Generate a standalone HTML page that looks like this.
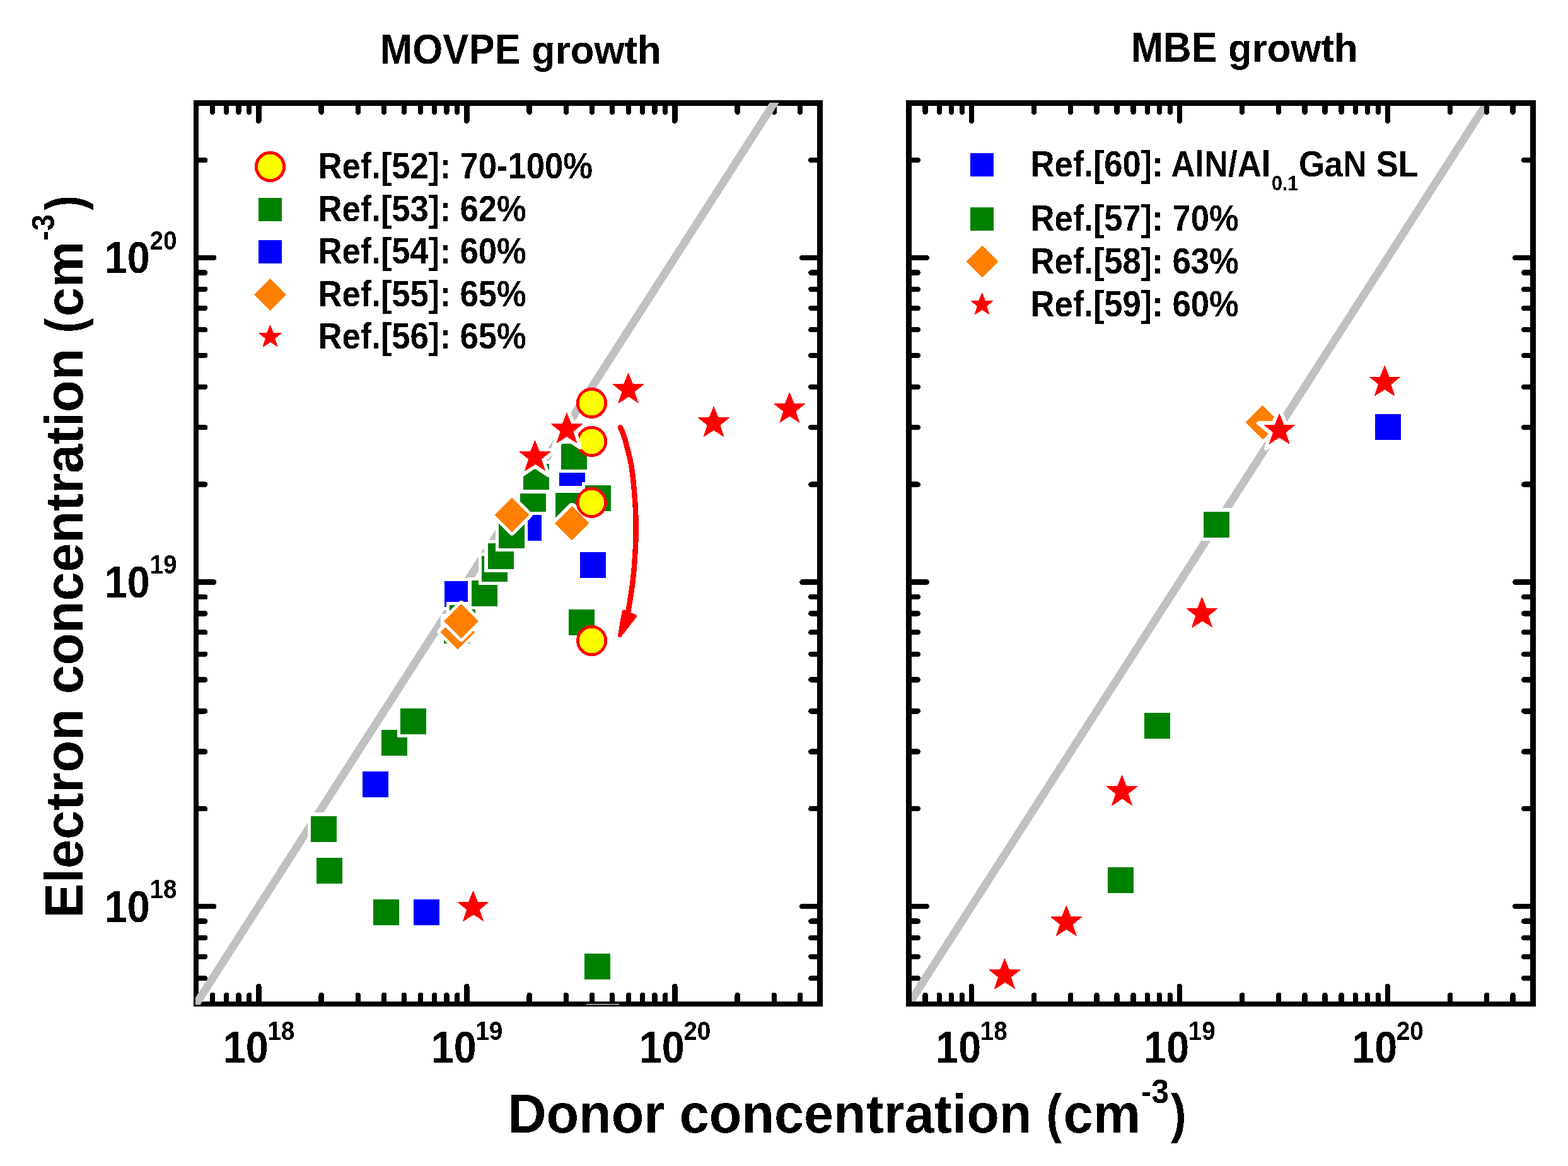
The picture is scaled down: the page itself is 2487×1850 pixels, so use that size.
<!DOCTYPE html>
<html lang="en"><head><meta charset="utf-8"><title>Electron concentration vs donor concentration</title>
<style>html,body{margin:0;padding:0;background:#fff}svg{display:block}text{font-family:"Liberation Sans",sans-serif;font-weight:bold;fill:#000}</style>
</head><body>
<svg shape-rendering="crispEdges" width="2487" height="1850" viewBox="0 0 2487 1850" role="img" aria-label="Electron concentration versus donor concentration for MOVPE and MBE growth">
<rect width="2487" height="1850" fill="#fff"/>
<defs>
<filter id="bw" filterUnits="userSpaceOnUse" x="0" y="0" width="2487" height="1850" color-interpolation-filters="sRGB"><feComponentTransfer><feFuncA type="discrete" tableValues="0 1"/></feComponentTransfer></filter>
<clipPath id="clipL"><rect x="310" y="163" width="991.2" height="1431.2"/></clipPath>
<clipPath id="clipR"><rect x="1446" y="167.9" width="981" height="1421.1"/></clipPath>
</defs>
<g id="left-axes" stroke="#000" stroke-width="8.4" fill="none" stroke-linecap="round">
<rect x="311" y="163.5" width="989.7" height="1429.5" stroke-linejoin="miter"/>
<path d="M337.13 1591.5v-12.8M337.13 165v12.8M359.22 1591.5v-12.8M359.22 165v12.8M378.36 1591.5v-12.8M378.36 165v12.8M395.24 1591.5v-12.8M395.24 165v12.8M410.34 1591.5v-26.8M410.34 165v26.8M509.68 1591.5v-12.8M509.68 165v12.8M567.79 1591.5v-12.8M567.79 165v12.8M609.02 1591.5v-12.8M609.02 165v12.8M641 1591.5v-12.8M641 165v12.8M667.13 1591.5v-12.8M667.13 165v12.8M689.22 1591.5v-12.8M689.22 165v12.8M708.36 1591.5v-12.8M708.36 165v12.8M725.24 1591.5v-12.8M725.24 165v12.8M740.34 1591.5v-26.8M740.34 165v26.8M839.68 1591.5v-12.8M839.68 165v12.8M897.79 1591.5v-12.8M897.79 165v12.8M939.02 1591.5v-12.8M939.02 165v12.8M971 1591.5v-12.8M971 165v12.8M997.13 1591.5v-12.8M997.13 165v12.8M1019.22 1591.5v-12.8M1019.22 165v12.8M1038.36 1591.5v-12.8M1038.36 165v12.8M1055.24 1591.5v-12.8M1055.24 165v12.8M1070.34 1591.5v-26.8M1070.34 165v26.8M1169.68 1591.5v-12.8M1169.68 165v12.8M1227.79 1591.5v-12.8M1227.79 165v12.8M1269.02 1591.5v-12.8M1269.02 165v12.8M312.5 1552.26h12.8M1299.2 1552.26h-12.8M312.5 1517.81h12.8M1299.2 1517.81h-12.8M312.5 1487.97h12.8M1299.2 1487.97h-12.8M312.5 1461.65h12.8M1299.2 1461.65h-12.8M312.5 1438.1h26.8M1299.2 1438.1h-26.8M312.5 1283.21h12.8M1299.2 1283.21h-12.8M312.5 1192.6h12.8M1299.2 1192.6h-12.8M312.5 1128.31h12.8M1299.2 1128.31h-12.8M312.5 1078.45h12.8M1299.2 1078.45h-12.8M312.5 1037.71h12.8M1299.2 1037.71h-12.8M312.5 1003.26h12.8M1299.2 1003.26h-12.8M312.5 973.42h12.8M1299.2 973.42h-12.8M312.5 947.1h12.8M1299.2 947.1h-12.8M312.5 923.55h26.8M1299.2 923.55h-26.8M312.5 768.66h12.8M1299.2 768.66h-12.8M312.5 678.05h12.8M1299.2 678.05h-12.8M312.5 613.76h12.8M1299.2 613.76h-12.8M312.5 563.9h12.8M1299.2 563.9h-12.8M312.5 523.16h12.8M1299.2 523.16h-12.8M312.5 488.71h12.8M1299.2 488.71h-12.8M312.5 458.87h12.8M1299.2 458.87h-12.8M312.5 432.55h12.8M1299.2 432.55h-12.8M312.5 409h26.8M1299.2 409h-26.8M312.5 254.11h12.8M1299.2 254.11h-12.8"/>
</g>
<g id="right-axes" stroke="#000" stroke-width="8.4" fill="none" stroke-linecap="round">
<rect x="1441.5" y="163.5" width="990" height="1429.5" stroke-linejoin="miter"/>
<path d="M1467.63 1591.5v-12.8M1467.63 165v12.8M1489.72 1591.5v-12.8M1489.72 165v12.8M1508.86 1591.5v-12.8M1508.86 165v12.8M1525.74 1591.5v-12.8M1525.74 165v12.8M1540.84 1591.5v-26.8M1540.84 165v26.8M1640.18 1591.5v-12.8M1640.18 165v12.8M1698.29 1591.5v-12.8M1698.29 165v12.8M1739.52 1591.5v-12.8M1739.52 165v12.8M1771.5 1591.5v-12.8M1771.5 165v12.8M1797.63 1591.5v-12.8M1797.63 165v12.8M1819.72 1591.5v-12.8M1819.72 165v12.8M1838.86 1591.5v-12.8M1838.86 165v12.8M1855.74 1591.5v-12.8M1855.74 165v12.8M1870.84 1591.5v-26.8M1870.84 165v26.8M1970.18 1591.5v-12.8M1970.18 165v12.8M2028.29 1591.5v-12.8M2028.29 165v12.8M2069.52 1591.5v-12.8M2069.52 165v12.8M2101.5 1591.5v-12.8M2101.5 165v12.8M2127.63 1591.5v-12.8M2127.63 165v12.8M2149.72 1591.5v-12.8M2149.72 165v12.8M2168.86 1591.5v-12.8M2168.86 165v12.8M2185.74 1591.5v-12.8M2185.74 165v12.8M2200.84 1591.5v-26.8M2200.84 165v26.8M2300.18 1591.5v-12.8M2300.18 165v12.8M2358.29 1591.5v-12.8M2358.29 165v12.8M2399.52 1591.5v-12.8M2399.52 165v12.8M1443 1552.26h12.8M2430 1552.26h-12.8M1443 1517.81h12.8M2430 1517.81h-12.8M1443 1487.97h12.8M2430 1487.97h-12.8M1443 1461.65h12.8M2430 1461.65h-12.8M1443 1438.1h26.8M2430 1438.1h-26.8M1443 1283.21h12.8M2430 1283.21h-12.8M1443 1192.6h12.8M2430 1192.6h-12.8M1443 1128.31h12.8M2430 1128.31h-12.8M1443 1078.45h12.8M2430 1078.45h-12.8M1443 1037.71h12.8M2430 1037.71h-12.8M1443 1003.26h12.8M2430 1003.26h-12.8M1443 973.42h12.8M2430 973.42h-12.8M1443 947.1h12.8M2430 947.1h-12.8M1443 923.55h26.8M2430 923.55h-26.8M1443 768.66h12.8M2430 768.66h-12.8M1443 678.05h12.8M2430 678.05h-12.8M1443 613.76h12.8M2430 613.76h-12.8M1443 563.9h12.8M2430 563.9h-12.8M1443 523.16h12.8M2430 523.16h-12.8M1443 488.71h12.8M2430 488.71h-12.8M1443 458.87h12.8M2430 458.87h-12.8M1443 432.55h12.8M2430 432.55h-12.8M1443 409h26.8M2430 409h-26.8M1443 254.11h12.8M2430 254.11h-12.8"/>
</g>
<g id="left-data" clip-path="url(#clipL)">
<line x1="283.5" y1="1635.88" x2="1255.29" y2="120.62" stroke="#c0c0c0" stroke-width="12.6"/>
<rect x="699.7" y="916.7" width="51.6" height="51.6" fill="#fff"/><rect x="705" y="922" width="41" height="41" fill="#00f"/>
<rect x="914.7" y="870.6" width="51.6" height="51.6" fill="#fff"/><rect x="920" y="875.9" width="41" height="41" fill="#00f"/>
<rect x="569.6" y="1218.6" width="51.6" height="51.6" fill="#fff"/><rect x="574.9" y="1223.9" width="41" height="41" fill="#00f"/>
<rect x="650.6" y="1421.5" width="51.6" height="51.6" fill="#fff"/><rect x="655.9" y="1426.8" width="41" height="41" fill="#00f"/>
<rect x="881.7" y="744.7" width="51.6" height="51.6" fill="#fff"/><rect x="887" y="750" width="41" height="20.5" fill="#00f"/>
<rect x="487.7" y="1289.4" width="51.6" height="51.6" fill="#fff"/><rect x="493" y="1294.7" width="41" height="41" fill="#008000"/>
<rect x="496.2" y="1355.7" width="51.6" height="51.6" fill="#fff"/><rect x="501.5" y="1361" width="41" height="41" fill="#008000"/>
<rect x="586.2" y="1421.5" width="51.6" height="51.6" fill="#fff"/><rect x="591.5" y="1426.8" width="41" height="41" fill="#008000"/>
<rect x="599.8" y="1152.7" width="51.6" height="51.6" fill="#fff"/><rect x="605.1" y="1158" width="41" height="41" fill="#008000"/>
<rect x="629.8" y="1118.6" width="51.6" height="51.6" fill="#fff"/><rect x="635.1" y="1123.9" width="41" height="41" fill="#008000"/>
<rect x="698.7" y="974.4" width="51.6" height="51.6" fill="#fff"/><rect x="704" y="979.7" width="41" height="41" fill="#008000"/>
<rect x="707.6" y="954.6" width="51.6" height="51.6" fill="#fff"/><rect x="712.9" y="959.9" width="41" height="41" fill="#008000"/>
<rect x="742.2" y="915.7" width="51.6" height="51.6" fill="#fff"/><rect x="747.5" y="921" width="41" height="41" fill="#008000"/>
<rect x="758.7" y="876.7" width="51.6" height="51.6" fill="#fff"/><rect x="764" y="882" width="41" height="41" fill="#008000"/>
<rect x="768.2" y="856.7" width="51.6" height="51.6" fill="#fff"/><rect x="773.5" y="862" width="41" height="41" fill="#008000"/>
<rect x="785.7" y="823.4" width="51.6" height="51.6" fill="#fff"/><rect x="791" y="828.7" width="41" height="41" fill="#008000"/>
<rect x="819.7" y="777.8" width="51.6" height="51.6" fill="#fff"/><rect x="825" y="783.1" width="41" height="41" fill="#008000"/>
<rect x="824.3" y="730.5" width="51.6" height="51.6" fill="#fff"/><rect x="829.6" y="735.8" width="41" height="41" fill="#008000"/>
<rect x="831.6" y="811.7" width="51.6" height="51.6" fill="#fff"/><rect x="836.9" y="817" width="21.7" height="41" fill="#00f"/>
<rect x="875.8" y="777" width="51.6" height="51.6" fill="#fff"/><rect x="881.1" y="782.3" width="41" height="41" fill="#008000"/>
<rect x="885.1" y="698.7" width="51.6" height="51.6" fill="#fff"/><rect x="890.4" y="704" width="41" height="41" fill="#008000"/>
<rect x="896.6" y="961.7" width="51.6" height="51.6" fill="#fff"/><rect x="901.9" y="967" width="41" height="41" fill="#008000"/>
<rect x="923.1" y="764.5" width="51.6" height="51.6" fill="#fff"/><rect x="928.4" y="769.8" width="41" height="41" fill="#008000"/>
<rect x="921.7" y="1507.7" width="51.6" height="51.6" fill="#fff"/><rect x="927" y="1513" width="41" height="41" fill="#008000"/>
<rect x="930" y="1593" width="52" height="1" fill="#fff"/>
<path d="M726 975.3L753.4 1002.7L726 1030.1L698.6 1002.7Z" fill="#fff" stroke="#fff" stroke-width="10.6" stroke-linejoin="round"/><path d="M726 975.3L753.4 1002.7L726 1030.1L698.6 1002.7Z" fill="#ff8000"/>
<path d="M731.5 958.1L758.9 985.5L731.5 1012.9L704.1 985.5Z" fill="#fff" stroke="#fff" stroke-width="10.6" stroke-linejoin="round"/><path d="M731.5 958.1L758.9 985.5L731.5 1012.9L704.1 985.5Z" fill="#ff8000"/>
<path d="M812 789.6L839.4 817L812 844.4L784.6 817Z" fill="#fff" stroke="#fff" stroke-width="10.6" stroke-linejoin="round"/><path d="M812 789.6L839.4 817L812 844.4L784.6 817Z" fill="#ff8000"/>
<path d="M907.4 802.8L934.8 830.2L907.4 857.6L880 830.2Z" fill="#fff" stroke="#fff" stroke-width="10.6" stroke-linejoin="round"/><path d="M907.4 802.8L934.8 830.2L907.4 857.6L880 830.2Z" fill="#ff8000"/>
<circle cx="938.5" cy="639.4" r="22.2" fill="#ff0" stroke="#f00" stroke-width="4.7"/>
<circle cx="938.5" cy="700.4" r="22.2" fill="#ff0" stroke="#f00" stroke-width="4.7"/>
<circle cx="938.3" cy="797.4" r="22.2" fill="#ff0" stroke="#f00" stroke-width="4.7"/>
<circle cx="938.6" cy="1016.5" r="22.2" fill="#ff0" stroke="#f00" stroke-width="4.7"/>
<path d="M750.5 1405.05L759.81 1428.46L783.35 1428.46L763.67 1444.42L771.78 1468.49L750.5 1454.66L729.22 1468.49L737.33 1444.42L717.65 1428.46L741.19 1428.46Z" fill="#fff" stroke="#fff" stroke-width="6.2" stroke-linejoin="round"/><path d="M750.5 1413.6L757.5 1431.2L775.2 1431.2L760.4 1443.2L766.5 1461.3L750.5 1450.9L734.5 1461.3L740.6 1443.2L725.8 1431.2L743.5 1431.2Z" fill="#f00" stroke="#f00" stroke-width="0.9" stroke-miterlimit="10"/>
<path d="M848.5 690.55L857.81 713.96L881.35 713.96L861.67 729.92L869.78 753.99L848.5 740.16L827.22 753.99L835.33 729.92L815.65 713.96L839.19 713.96Z" fill="#fff" stroke="#fff" stroke-width="6.2" stroke-linejoin="round"/><path d="M848.5 699.1L855.5 716.7L873.2 716.7L858.4 728.7L864.5 746.8L848.5 736.4L832.5 746.8L838.6 728.7L823.8 716.7L841.5 716.7Z" fill="#f00" stroke="#f00" stroke-width="0.9" stroke-miterlimit="10"/>
<path d="M899 646.65L908.31 670.06L931.85 670.06L912.17 686.02L920.28 710.09L899 696.26L877.72 710.09L885.83 686.02L866.15 670.06L889.69 670.06Z" fill="#fff" stroke="#fff" stroke-width="6.2" stroke-linejoin="round"/><path d="M899 655.2L906 672.8L923.7 672.8L908.9 684.8L915 702.9L899 692.5L883 702.9L889.1 684.8L874.3 672.8L892 672.8Z" fill="#f00" stroke="#f00" stroke-width="0.9" stroke-miterlimit="10"/>
<path d="M996.5 583.35L1005.81 606.76L1029.35 606.76L1009.67 622.72L1017.78 646.79L996.5 632.96L975.22 646.79L983.33 622.72L963.65 606.76L987.19 606.76Z" fill="#fff" stroke="#fff" stroke-width="6.2" stroke-linejoin="round"/><path d="M996.5 591.9L1003.5 609.5L1021.2 609.5L1006.4 621.5L1012.5 639.6L996.5 629.2L980.5 639.6L986.6 621.5L971.8 609.5L989.5 609.5Z" fill="#f00" stroke="#f00" stroke-width="0.9" stroke-miterlimit="10"/>
<path d="M1132 636.55L1141.31 659.96L1164.85 659.96L1145.17 675.92L1153.28 699.99L1132 686.16L1110.72 699.99L1118.83 675.92L1099.15 659.96L1122.69 659.96Z" fill="#fff" stroke="#fff" stroke-width="6.2" stroke-linejoin="round"/><path d="M1132 645.1L1139 662.7L1156.7 662.7L1141.9 674.7L1148 692.8L1132 682.4L1116 692.8L1122.1 674.7L1107.3 662.7L1125 662.7Z" fill="#f00" stroke="#f00" stroke-width="0.9" stroke-miterlimit="10"/>
<path d="M1252.3 614.35L1261.61 637.76L1285.15 637.76L1265.47 653.72L1273.58 677.79L1252.3 663.96L1231.02 677.79L1239.13 653.72L1219.45 637.76L1242.99 637.76Z" fill="#fff" stroke="#fff" stroke-width="6.2" stroke-linejoin="round"/><path d="M1252.3 622.9L1259.3 640.5L1277 640.5L1262.2 652.5L1268.3 670.6L1252.3 660.2L1236.3 670.6L1242.4 652.5L1227.6 640.5L1245.3 640.5Z" fill="#f00" stroke="#f00" stroke-width="0.9" stroke-miterlimit="10"/>
</g>
<g id="arrow">
<path d="M984 678.4C985 680.78 988.03 686.68 990 692.7C991.97 698.72 993.98 707.23 995.8 714.5C997.62 721.77 999.55 729.03 1000.9 736.3C1002.25 743.57 1003.05 750.83 1003.9 758.1C1004.75 765.37 1005.38 772.63 1006 779.9C1006.62 787.17 1007.18 794.43 1007.6 801.7C1008.02 808.97 1008.33 817.12 1008.5 823.5C1008.67 829.88 1008.65 833.62 1008.6 840C1008.55 846.38 1008.47 854.53 1008.2 861.8C1007.93 869.07 1007.47 876.33 1007 883.6C1006.53 890.87 1006.06 898.13 1005.4 905.4C1004.74 912.67 1003.97 919.93 1003.05 927.2C1002.13 934.47 1000.88 942.65 999.9 949C998.92 955.35 997.97 960.97 997.2 965.3C996.43 969.63 995.62 973.38 995.3 975" fill="none" stroke="#f00" stroke-width="8.5" stroke-linecap="round" stroke-linejoin="round"/>
<path d="M989.4 970.8L1006.9 977.6L982.9 1008.4Z" fill="#f00" stroke="#f00" stroke-width="6" stroke-linejoin="round"/>
</g>
<g id="right-data" clip-path="url(#clipR)">
<line x1="1414" y1="1635.88" x2="2385.79" y2="120.62" stroke="#c0c0c0" stroke-width="12.6"/>
<rect x="2175.6" y="651.5" width="51.6" height="51.6" fill="#fff"/><rect x="2180.9" y="656.8" width="41" height="41" fill="#00f"/>
<rect x="1751.2" y="1370.7" width="51.6" height="51.6" fill="#fff"/><rect x="1756.5" y="1376" width="41" height="41" fill="#008000"/>
<rect x="1809.7" y="1125.7" width="51.6" height="51.6" fill="#fff"/><rect x="1815" y="1131" width="41" height="41" fill="#008000"/>
<rect x="1903.2" y="806.4" width="51.6" height="51.6" fill="#fff"/><rect x="1908.5" y="811.7" width="41" height="41" fill="#008000"/>
<path d="M2002.9 643L2030.3 670.4L2002.9 697.8L1975.5 670.4Z" fill="#fff" stroke="#fff" stroke-width="10.6" stroke-linejoin="round"/><path d="M2002.9 643L2030.3 670.4L2002.9 697.8L1975.5 670.4Z" fill="#ff8000"/>
<path d="M1593.5 1512.55L1602.81 1535.96L1626.35 1535.96L1606.67 1551.92L1614.78 1575.99L1593.5 1562.16L1572.22 1575.99L1580.33 1551.92L1560.65 1535.96L1584.19 1535.96Z" fill="#fff" stroke="#fff" stroke-width="6.2" stroke-linejoin="round"/><path d="M1593.5 1521.1L1600.5 1538.7L1618.2 1538.7L1603.4 1550.7L1609.5 1568.8L1593.5 1558.4L1577.5 1568.8L1583.6 1550.7L1568.8 1538.7L1586.5 1538.7Z" fill="#f00" stroke="#f00" stroke-width="0.9" stroke-miterlimit="10"/>
<path d="M1691.3 1428.55L1700.61 1451.96L1724.15 1451.96L1704.47 1467.92L1712.58 1491.99L1691.3 1478.16L1670.02 1491.99L1678.13 1467.92L1658.45 1451.96L1681.99 1451.96Z" fill="#fff" stroke="#fff" stroke-width="6.2" stroke-linejoin="round"/><path d="M1691.3 1437.1L1698.3 1454.7L1716 1454.7L1701.2 1466.7L1707.3 1484.8L1691.3 1474.4L1675.3 1484.8L1681.4 1466.7L1666.6 1454.7L1684.3 1454.7Z" fill="#f00" stroke="#f00" stroke-width="0.9" stroke-miterlimit="10"/>
<path d="M1779.5 1221.35L1788.81 1244.76L1812.35 1244.76L1792.67 1260.72L1800.78 1284.79L1779.5 1270.96L1758.22 1284.79L1766.33 1260.72L1746.65 1244.76L1770.19 1244.76Z" fill="#fff" stroke="#fff" stroke-width="6.2" stroke-linejoin="round"/><path d="M1779.5 1229.9L1786.5 1247.5L1804.2 1247.5L1789.4 1259.5L1795.5 1277.6L1779.5 1267.2L1763.5 1277.6L1769.6 1259.5L1754.8 1247.5L1772.5 1247.5Z" fill="#f00" stroke="#f00" stroke-width="0.9" stroke-miterlimit="10"/>
<path d="M1906.5 939.15L1915.81 962.56L1939.35 962.56L1919.67 978.52L1927.78 1002.59L1906.5 988.76L1885.22 1002.59L1893.33 978.52L1873.65 962.56L1897.19 962.56Z" fill="#fff" stroke="#fff" stroke-width="6.2" stroke-linejoin="round"/><path d="M1906.5 947.7L1913.5 965.3L1931.2 965.3L1916.4 977.3L1922.5 995.4L1906.5 985L1890.5 995.4L1896.6 977.3L1881.8 965.3L1899.5 965.3Z" fill="#f00" stroke="#f00" stroke-width="0.9" stroke-miterlimit="10"/>
<path d="M2029.2 648.15L2038.51 671.56L2062.05 671.56L2042.37 687.52L2050.48 711.59L2029.2 697.76L2007.92 711.59L2016.03 687.52L1996.35 671.56L2019.89 671.56Z" fill="#fff" stroke="#fff" stroke-width="6.2" stroke-linejoin="round"/><path d="M2029.2 656.7L2036.2 674.3L2053.9 674.3L2039.1 686.3L2045.2 704.4L2029.2 694L2013.2 704.4L2019.3 686.3L2004.5 674.3L2022.2 674.3Z" fill="#f00" stroke="#f00" stroke-width="0.9" stroke-miterlimit="10"/>
<path d="M2196.2 571.85L2205.51 595.26L2229.05 595.26L2209.37 611.22L2217.48 635.29L2196.2 621.46L2174.92 635.29L2183.03 611.22L2163.35 595.26L2186.89 595.26Z" fill="#fff" stroke="#fff" stroke-width="6.2" stroke-linejoin="round"/><path d="M2196.2 580.4L2203.2 598L2220.9 598L2206.1 610L2212.2 628.1L2196.2 617.7L2180.2 628.1L2186.3 610L2171.5 598L2189.2 598Z" fill="#f00" stroke="#f00" stroke-width="0.9" stroke-miterlimit="10"/>
</g>
<path d="M2358.29 165v12.8" stroke="#000" stroke-width="8.4" stroke-linecap="round" fill="none"/>
<g id="legend-left" filter="url(#bw)">
<circle cx="428.5" cy="264.4" r="22.1" fill="#ff0" stroke="#f00" stroke-width="5"/>
<rect x="410" y="313.9" width="37" height="37" fill="#008000"/>
<rect x="410" y="381.4" width="37" height="37" fill="#00f"/>
<path d="M428.7 441.8L454.4 467.5L428.7 493.2L403 467.5Z" fill="#ff8000"/>
<path d="M428.5 515.95L433.54 528.62L446.28 528.62L435.63 537.26L440.02 550.3L428.5 542.81L416.98 550.3L421.37 537.26L410.72 528.62L423.46 528.62Z" fill="#f00" stroke="#f00" stroke-width="0.9" stroke-miterlimit="10"/>
<text transform="translate(504.5 282.8) scale(1 1.0970)" font-size="52.6">Ref.[52]: 70-100%</text>
<text transform="translate(504.5 350.9) scale(1 1.0970)" font-size="52.6">Ref.[53]: 62%</text>
<text transform="translate(504.5 418) scale(1 1.0970)" font-size="52.6">Ref.[54]: 60%</text>
<text transform="translate(504.5 485.9) scale(1 1.0970)" font-size="52.6">Ref.[55]: 65%</text>
<text transform="translate(504.5 553.3) scale(1 1.0970)" font-size="52.6">Ref.[56]: 65%</text>
</g>
<g id="legend-right" filter="url(#bw)">
<rect x="1538.9" y="243.1" width="37" height="37" fill="#00f"/>
<rect x="1538.9" y="328.8" width="37" height="37" fill="#008000"/>
<path d="M1558 389.6L1583.7 415.3L1558 441L1532.3 415.3Z" fill="#ff8000"/>
<path d="M1557.6 464.55L1562.64 477.22L1575.38 477.22L1564.73 485.86L1569.12 498.9L1557.6 491.41L1546.08 498.9L1550.47 485.86L1539.82 477.22L1552.56 477.22Z" fill="#f00" stroke="#f00" stroke-width="0.9" stroke-miterlimit="10"/>
<text transform="translate(1634.4 280) scale(1 1.0970)" font-size="52.6">Ref.[60]: AlN/Al</text>
<text transform="translate(2016.9 301.9) scale(1 1.1000)" font-size="30.5">0.1</text>
<text transform="translate(2059.9 280) scale(1 1.0970)" font-size="52.6">GaN SL</text>
<text transform="translate(1634.4 365.9) scale(1 1.0970)" font-size="52.6">Ref.[57]: 70%</text>
<text transform="translate(1634.4 433.7) scale(1 1.0970)" font-size="52.6">Ref.[58]: 63%</text>
<text transform="translate(1634.4 502.2) scale(1 1.0970)" font-size="52.6">Ref.[59]: 60%</text>
</g>
<g id="titles" filter="url(#bw)">
<text transform="translate(602.9 100.9) scale(1 1.0780)" font-size="61.73">MOVPE</text>
<text transform="translate(842.98 100.9) scale(1 1.0320)" font-size="61.73">growth</text>
<text transform="translate(1793.7 98) scale(1 1.0780)" font-size="61.73">MBE</text>
<text transform="translate(1948 98) scale(1 1.0320)" font-size="61.73">growth</text>
</g>
<g id="tick-labels" filter="url(#bw)">
<text transform="translate(353.74 1686) scale(1 1.0780)" font-size="64.7">10</text>
<text transform="translate(424.24 1649.8) scale(1 1.0800)" font-size="38.7">18</text>
<text transform="translate(683.74 1686) scale(1 1.0780)" font-size="64.7">10</text>
<text transform="translate(754.24 1649.8) scale(1 1.0800)" font-size="38.7">19</text>
<text transform="translate(1013.74 1686) scale(1 1.0780)" font-size="64.7">10</text>
<text transform="translate(1084.24 1649.8) scale(1 1.0800)" font-size="38.7">20</text>
<text transform="translate(1484.24 1686) scale(1 1.0780)" font-size="64.7">10</text>
<text transform="translate(1554.74 1649.8) scale(1 1.0800)" font-size="38.7">18</text>
<text transform="translate(1814.24 1686) scale(1 1.0780)" font-size="64.7">10</text>
<text transform="translate(1884.74 1649.8) scale(1 1.0800)" font-size="38.7">19</text>
<text transform="translate(2144.24 1686) scale(1 1.0780)" font-size="64.7">10</text>
<text transform="translate(2214.74 1649.8) scale(1 1.0800)" font-size="38.7">20</text>
<text transform="translate(165.7 1462.5) scale(1 1.0780)" font-size="64.7">10</text>
<text transform="translate(237.4 1424.8) scale(1 1.0800)" font-size="38.7">18</text>
<text transform="translate(165.7 947.95) scale(1 1.0780)" font-size="64.7">10</text>
<text transform="translate(237.4 910.25) scale(1 1.0800)" font-size="38.7">19</text>
<text transform="translate(165.7 433.4) scale(1 1.0780)" font-size="64.7">10</text>
<text transform="translate(237.4 395.7) scale(1 1.0800)" font-size="38.7">20</text>
</g>
<g id="axis-titles" filter="url(#bw)">
<text transform="translate(805.4 1797) scale(1 1.0380)" font-size="84.51">Donor concentration</text>
<text transform="translate(1659.4 1796) scale(0.8760 1.0118)" font-size="84.51">(</text>
<text transform="translate(1686.8 1797) scale(1 1.0290)" font-size="84.51">cm</text>
<text transform="translate(1810.1 1749.5) scale(1 1.0650)" font-size="49.5">-3</text>
<text transform="translate(1857.1 1796) scale(0.8760 1.0118)" font-size="84.51">)</text>
<text transform="translate(131 1456.45) rotate(-90) scale(1 1.0160)" font-size="83">Electron concentration</text>
<text transform="translate(130.9 528.55) rotate(-90) scale(0.8590 0.9940)" font-size="83">(</text>
<text transform="translate(131 502.3) rotate(-90) scale(1 1.0070)" font-size="83">cm</text>
<text transform="translate(85.7 381.45) rotate(-90) scale(1 1.0900)" font-size="46.5">-3</text>
<text transform="translate(130.9 333.8) rotate(-90) scale(0.8590 0.9940)" font-size="83">)</text>
</g>
</svg>
</body></html>
